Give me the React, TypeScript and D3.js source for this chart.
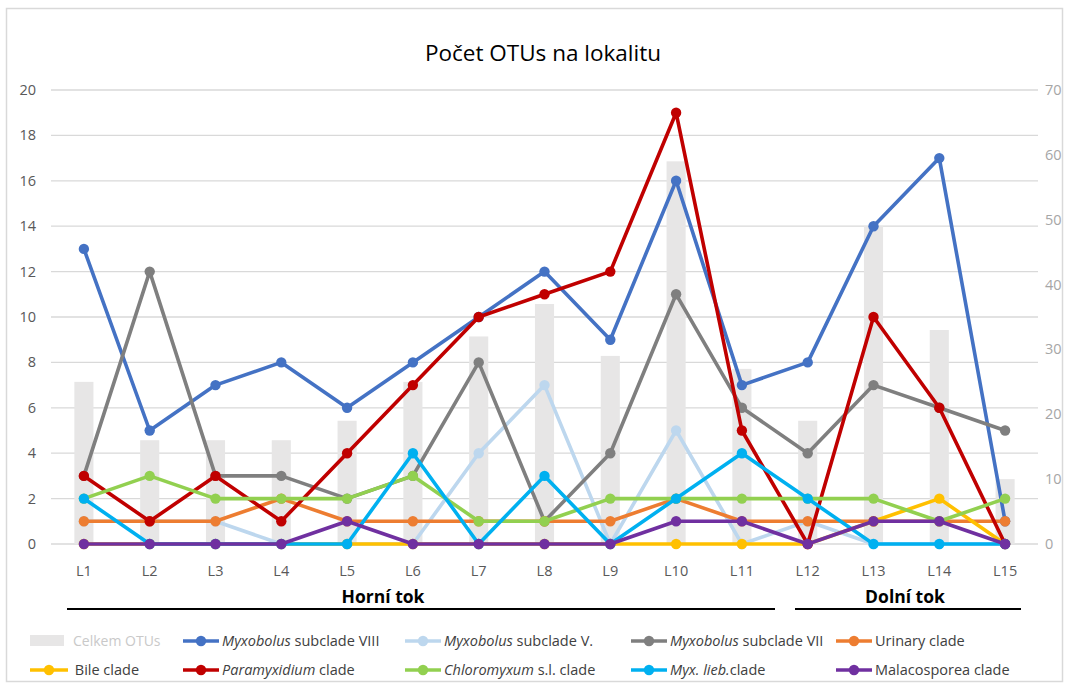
import React, { useEffect, useRef } from 'react';
import * as d3 from 'd3';

const sites = ['L1', 'L2', 'L3', 'L4', 'L5', 'L6', 'L7', 'L8', 'L9', 'L10', 'L11', 'L12', 'L13', 'L14', 'L15'];

// total OTUs per site (right axis)
const celkemOTUs = [25, 16, 16, 16, 19, 25, 32, 37, 29, 59, 27, 19, 49, 33, 10];

// clade counts per site (left axis)
const myxVIII = [13, 5, 7, 8, 6, 8, 10, 12, 9, 16, 7, 8, 14, 17, 1];
const myxV = [1, 1, 1, 0, 0, 0, 4, 7, 0, 5, 0, 1, 0, 0, 0];
const myxVII = [3, 12, 3, 3, 2, 3, 8, 1, 4, 11, 6, 4, 7, 6, 5];
const urinary = [1, 1, 1, 2, 1, 1, 1, 1, 1, 2, 1, 1, 1, 1, 1];
const bile = [0, 0, 0, 0, 0, 0, 0, 0, 0, 0, 0, 0, 1, 2, 0];
const paramyx = [3, 1, 3, 1, 4, 7, 10, 11, 12, 19, 5, 0, 10, 6, 0];
const chloro = [2, 3, 2, 2, 2, 3, 1, 1, 2, 2, 2, 2, 2, 1, 2];
const myxLieb = [2, 0, 0, 0, 0, 4, 0, 3, 0, 2, 4, 2, 0, 0, 0];
const malaco = [0, 0, 0, 0, 1, 0, 0, 0, 0, 1, 1, 0, 1, 1, 0];

const leftTicks = [0, 2, 4, 6, 8, 10, 12, 14, 16, 18, 20];
const rightTicks = [0, 10, 20, 30, 40, 50, 60, 70];

// italic part, normal part
const series = [
  { it: 'Myxobolus', rest: ' subclade VIII', values: myxVIII, color: '#4472C4' },
  { it: 'Myxobolus', rest: ' subclade V.', values: myxV, color: '#BDD7EE' },
  { it: 'Myxobolus', rest: ' subclade VII', values: myxVII, color: '#7F7F7F' },
  { it: '', rest: 'Urinary clade', values: urinary, color: '#ED7D31' },
  { it: '', rest: ' Bile clade', values: bile, color: '#FFC000' },
  { it: 'Paramyxidium', rest: ' clade', values: paramyx, color: '#C00000' },
  { it: 'Chloromyxum', rest: ' s.l. clade', values: chloro, color: '#92D050' },
  { it: 'Myx. lieb.', rest: 'clade', values: myxLieb, color: '#00B0F0' },
  { it: '', rest: 'Malacosporea clade', values: malaco, color: '#7030A0' },
];

const App = () => {
  const ref = useRef(null);

  useEffect(() => {
    const width = 1070;
    const height = 691;
    const font = "'Open Sans', sans-serif";

    const root = d3.select(ref.current);
    root.selectAll('*').remove();

    const svg = root
      .append('svg')
      .attr('width', width)
      .attr('height', height)
      .style('display', 'block');

    svg.append('rect').attr('width', width).attr('height', height).attr('fill', '#fff');
    svg
      .append('rect')
      .attr('x', 6.5)
      .attr('y', 8.5)
      .attr('width', 1056)
      .attr('height', 673)
      .attr('fill', 'none')
      .attr('stroke', '#D9D9D9')
      .attr('stroke-width', 1.5);

    const x = d3.scaleBand().domain(sites).range([51, 1038]);
    const yL = d3.scaleLinear().domain([0, 20]).range([544, 90]);
    const yR = d3.scaleLinear().domain([0, 70]).range([544, 90]);
    const cx = (i) => x(sites[i]) + x.bandwidth() / 2;

    // title
    svg
      .append('text')
      .attr('x', 543)
      .attr('y', 61)
      .attr('text-anchor', 'middle')
      .style('font-family', font)
      .style('font-size', '22.5px')
      .style('fill', '#000')
      .text('Počet OTUs na lokalitu');

    // gridlines
    svg
      .selectAll('.grid')
      .data(leftTicks)
      .enter()
      .append('line')
      .attr('x1', 51)
      .attr('x2', 1038)
      .attr('y1', (d) => yL(d))
      .attr('y2', (d) => yL(d))
      .attr('stroke', '#D9D9D9')
      .attr('stroke-width', 1.3);

    // left axis labels
    svg
      .selectAll('.lt')
      .data(leftTicks)
      .enter()
      .append('text')
      .attr('x', 36)
      .attr('y', (d) => yL(d) + 5)
      .attr('text-anchor', 'end')
      .style('font-family', font)
      .style('font-size', '14.5px')
      .style('fill', '#595959')
      .text((d) => d);

    // right axis labels
    svg
      .selectAll('.rt')
      .data(rightTicks)
      .enter()
      .append('text')
      .attr('x', 1045)
      .attr('y', (d) => yR(d) + 5)
      .attr('text-anchor', 'start')
      .style('font-family', font)
      .style('font-size', '14.5px')
      .style('fill', '#A6A6A6')
      .text((d) => d);

    // x labels
    svg
      .selectAll('.xl')
      .data(sites)
      .enter()
      .append('text')
      .attr('x', (d, i) => cx(i))
      .attr('y', 576)
      .attr('text-anchor', 'middle')
      .style('font-family', font)
      .style('font-size', '14.5px')
      .style('fill', '#595959')
      .text((d) => d);

    // bars
    const bw = x.bandwidth() * 0.29;
    svg
      .selectAll('.bar')
      .data(celkemOTUs)
      .enter()
      .append('rect')
      .attr('x', (d, i) => cx(i) - bw / 2)
      .attr('y', (d) => yR(d))
      .attr('width', bw)
      .attr('height', (d) => yR(0) - yR(d))
      .attr('fill', '#E7E6E6');

    // lines
    const line = d3
      .line()
      .x((d, i) => cx(i))
      .y((d) => yL(d));

    series.forEach((s) => {
      const g = svg.append('g');
      g.append('path')
        .attr('d', line(s.values))
        .attr('fill', 'none')
        .attr('stroke', s.color)
        .attr('stroke-width', 3.6)
        .attr('stroke-linejoin', 'round');
      g.selectAll('circle')
        .data(s.values)
        .enter()
        .append('circle')
        .attr('cx', (d, i) => cx(i))
        .attr('cy', (d) => yL(d))
        .attr('r', 5.2)
        .attr('fill', s.color);
    });

    // river sections
    const sections = [
      { name: 'Horní tok', x1: 67, x2: 775, tx: 383 },
      { name: 'Dolní tok', x1: 795, x2: 1021, tx: 905 },
    ];
    sections.forEach((s) => {
      svg
        .append('line')
        .attr('x1', s.x1)
        .attr('x2', s.x2)
        .attr('y1', 609)
        .attr('y2', 609)
        .attr('stroke', '#000')
        .attr('stroke-width', 2);
      svg
        .append('text')
        .attr('x', s.tx)
        .attr('y', 603)
        .attr('text-anchor', 'middle')
        .style('font-family', font)
        .style('font-size', '17.5px')
        .style('font-weight', 'bold')
        .text(s.name);
    });

    // legend
    const colX = [30, 183, 405, 631, 836];
    const rowY = [641, 670];
    const lg = svg.append('g');
    lg.append('rect')
      .attr('x', colX[0])
      .attr('y', rowY[0] - 6)
      .attr('width', 34)
      .attr('height', 11)
      .attr('fill', '#E7E6E6');
    lg.append('text')
      .attr('x', colX[0] + 43)
      .attr('y', rowY[0] + 5)
      .style('font-family', font)
      .style('font-size', '14px')
      .style('fill', '#C9C9C9')
      .text('Celkem OTUs');

    series.forEach((s, k) => {
      const idx = k + 1;
      const col = idx % 5;
      const row = Math.floor(idx / 5);
      const lx = colX[col];
      const ly = rowY[row];
      const lw = col === 0 ? 38 : 36;
      lg.append('line')
        .attr('x1', lx)
        .attr('x2', lx + lw)
        .attr('y1', ly)
        .attr('y2', ly)
        .attr('stroke', s.color)
        .attr('stroke-width', 3.6);
      lg.append('circle')
        .attr('cx', lx + lw / 2)
        .attr('cy', ly)
        .attr('r', 5.2)
        .attr('fill', s.color);
      const t = lg
        .append('text')
        .attr('x', lx + lw + 3)
        .attr('y', ly + 5)
        .style('font-family', font)
        .style('font-size', '14.5px')
        .style('fill', '#404040');
      if (s.it) t.append('tspan').style('font-style', 'italic').text(s.it);
      t.append('tspan').attr('xml:space', 'preserve').style('white-space', 'pre').text(s.rest);
    });
  }, []);

  return (
    <div style={{ position: 'absolute', left: 0, top: 0 }}>
      <div ref={ref}></div>
    </div>
  );
};

export default App;
